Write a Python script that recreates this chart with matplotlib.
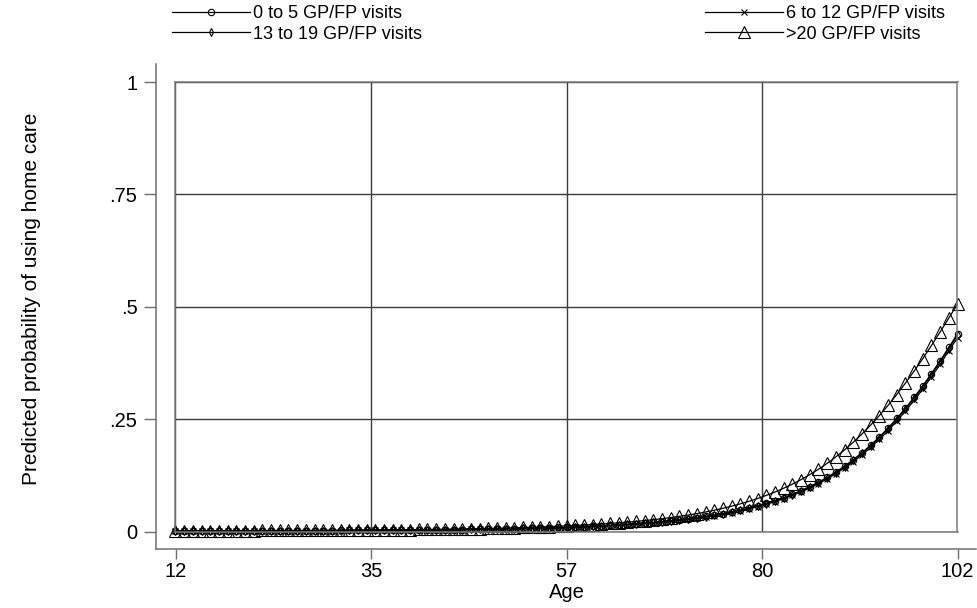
import numpy as np
import matplotlib
matplotlib.use('Agg')
import matplotlib.pyplot as plt

plt.rcParams['font.family'] = ['Liberation Sans', 'DejaVu Sans']

### Data (one point per year of age) ###

ages = list(range(12, 103))

visits_0_5 = [
    0.00176, 0.00178, 0.00180, 0.00183, 0.00186, 0.00188, 0.00191, 0.00195, 0.00199, 0.00203,
    0.00207, 0.00212, 0.00217, 0.00223, 0.00229, 0.00235, 0.00243, 0.00250, 0.00258, 0.00267,
    0.00276, 0.00287, 0.00297, 0.00309, 0.00322, 0.00335, 0.00350, 0.00366, 0.00382, 0.00401,
    0.00420, 0.00442, 0.00464, 0.00489, 0.00515, 0.00543, 0.00574, 0.00607, 0.00643, 0.00682,
    0.00725, 0.00771, 0.00820, 0.00875, 0.00934, 0.00997, 0.01067, 0.01143, 0.01227, 0.01318,
    0.01418, 0.01526, 0.01645, 0.01774, 0.01915, 0.02072, 0.02245, 0.02431, 0.02643, 0.02866,
    0.03118, 0.03396, 0.03700, 0.04044, 0.04410, 0.04811, 0.05266, 0.05767, 0.06312, 0.06920,
    0.07586, 0.08326, 0.09135, 0.1003, 0.1102, 0.1209, 0.1329, 0.1458, 0.1600, 0.1755,
    0.1925, 0.2107, 0.2304, 0.2518, 0.2745, 0.2986, 0.3243, 0.3516, 0.3801, 0.4097,
    0.4403,
]

visits_6_12 = [
    0.00170, 0.00172, 0.00174, 0.00177, 0.00180, 0.00182, 0.00184, 0.00188, 0.00192, 0.00196,
    0.00200, 0.00205, 0.00210, 0.00215, 0.00221, 0.00227, 0.00235, 0.00241, 0.00249, 0.00258,
    0.00267, 0.00277, 0.00287, 0.00298, 0.00311, 0.00324, 0.00338, 0.00353, 0.00369, 0.00387,
    0.00406, 0.00427, 0.00448, 0.00472, 0.00497, 0.00524, 0.00554, 0.00586, 0.00621, 0.00659,
    0.00700, 0.00745, 0.00792, 0.00845, 0.00902, 0.00963, 0.01031, 0.01104, 0.01185, 0.01273,
    0.01370, 0.01474, 0.01589, 0.01714, 0.01850, 0.02002, 0.02169, 0.02349, 0.02554, 0.02770,
    0.03013, 0.03282, 0.03576, 0.03909, 0.04263, 0.04652, 0.05092, 0.05578, 0.06106, 0.06696,
    0.07342, 0.08061, 0.08848, 0.0972, 0.1068, 0.1173, 0.1290, 0.1416, 0.1554, 0.1706,
    0.1873, 0.2051, 0.2245, 0.2453, 0.2680, 0.2918, 0.3172, 0.3443, 0.3719, 0.4020,
    0.4317,
]

visits_13_19 = [
    0.00174, 0.00176, 0.00178, 0.00181, 0.00184, 0.00186, 0.00189, 0.00193, 0.00197, 0.00201,
    0.00205, 0.00209, 0.00214, 0.00220, 0.00226, 0.00232, 0.00240, 0.00247, 0.00255, 0.00264,
    0.00273, 0.00284, 0.00293, 0.00305, 0.00318, 0.00331, 0.00346, 0.00362, 0.00377, 0.00396,
    0.00415, 0.00437, 0.00458, 0.00483, 0.00509, 0.00537, 0.00567, 0.00600, 0.00635, 0.00674,
    0.00716, 0.00762, 0.00810, 0.00865, 0.00923, 0.00985, 0.01054, 0.01129, 0.01212, 0.01302,
    0.01401, 0.01508, 0.01625, 0.01753, 0.01892, 0.02047, 0.02218, 0.02402, 0.02612, 0.02832,
    0.03081, 0.03356, 0.03657, 0.03997, 0.04359, 0.04756, 0.05206, 0.05702, 0.06241, 0.06843,
    0.07503, 0.08236, 0.09038, 0.0993, 0.1091, 0.1197, 0.1316, 0.1444, 0.1585, 0.1739,
    0.1908, 0.2088, 0.2284, 0.2497, 0.2724, 0.2964, 0.3220, 0.3493, 0.3777, 0.4072,
    0.4373,
]

visits_20_plus = [
    0.00229, 0.00232, 0.00235, 0.00238, 0.00242, 0.00245, 0.00249, 0.00254, 0.00259, 0.00264,
    0.00270, 0.00276, 0.00283, 0.00290, 0.00298, 0.00306, 0.00316, 0.00326, 0.00336, 0.00348,
    0.00359, 0.00374, 0.00387, 0.00402, 0.00419, 0.00436, 0.00456, 0.00476, 0.00497, 0.00522,
    0.00547, 0.00575, 0.00604, 0.00636, 0.00670, 0.00707, 0.00747, 0.00790, 0.00836, 0.00887,
    0.00943, 0.01003, 0.01066, 0.01137, 0.01214, 0.01295, 0.01386, 0.01484, 0.01592, 0.01709,
    0.01838, 0.01977, 0.02130, 0.02296, 0.02477, 0.02678, 0.02900, 0.03138, 0.03420, 0.03710,
    0.04030, 0.04380, 0.04770, 0.05200, 0.05670, 0.06190, 0.06750, 0.07380, 0.08080, 0.08830,
    0.09670, 0.1058, 0.1159, 0.1270, 0.1389, 0.1520, 0.1664, 0.1820, 0.1989, 0.2172,
    0.2370, 0.2581, 0.2807, 0.3049, 0.3303, 0.3569, 0.3848, 0.4141, 0.4442, 0.4750,
    0.5062,
]

x_ticks = [12, 34.5, 57, 79.5, 102]
x_tick_labels = ['12', '35', '57', '80', '102']
y_ticks = [0, 0.25, 0.5, 0.75, 1]
y_tick_labels = ['0', '.25', '.5', '.75', '1']

### Layout (pixels on a 978x608 canvas) ###

W, H = 978, 608
box_l, box_r, box_t, box_b = 175.5, 957.5, 82, 531.7
pad_l, pad_r, pad_t, pad_b = 20, 18, 18, 17.5

fig = plt.figure(figsize=(W / 100, H / 100), dpi=100)

# Outer axes only carries the offset axis lines, ticks and tick labels
outer = fig.add_axes([
    (box_l - pad_l) / W,
    (H - box_b - pad_b) / H,
    (box_r - box_l + pad_l + pad_r) / W,
    (box_b - box_t + pad_t + pad_b) / H,
])
outer.set_facecolor('none')
x_per_px = (102 - 12) / (box_r - box_l)
y_per_px = 1.0 / (box_b - box_t)
outer.set_xlim(12 - pad_l * x_per_px, 102 + pad_r * x_per_px)
outer.set_ylim(0 - pad_b * y_per_px, 1 + pad_t * y_per_px)
for side in ('top', 'right'):
    outer.spines[side].set_visible(False)
for side in ('left', 'bottom'):
    outer.spines[side].set_color('#6e6e6e')
    outer.spines[side].set_linewidth(1.1)
outer.set_xticks(x_ticks)
outer.set_xticklabels(x_tick_labels)
outer.set_yticks(y_ticks)
outer.set_yticklabels(y_tick_labels)
outer.tick_params(axis='y', length=9, width=1, color='#6e6e6e', pad=4, labelsize=14.5)
outer.tick_params(axis='x', length=7.5, width=1, color='#6e6e6e', pad=2, labelsize=14.5)

# Inner plot region with the box and grid
ax = fig.add_axes([
    box_l / W,
    (H - box_b) / H,
    (box_r - box_l) / W,
    (box_b - box_t) / H,
])
ax.set_facecolor('none')
ax.set_xlim(12, 102)
ax.set_ylim(0, 1)
ax.set_xticks(x_ticks)
ax.set_yticks(y_ticks)
ax.tick_params(length=0, labelleft=False, labelbottom=False)
ax.grid(True, color='#3c3c3c', linewidth=1)
ax.set_axisbelow(True)
for side in ax.spines:
    ax.spines[side].set_color('#7a7a7a')
    ax.spines[side].set_linewidth(1.1)

common = dict(color='black', linewidth=0.9, markeredgewidth=0.8, clip_on=False)

line_0_5, = ax.plot(ages, visits_0_5, marker='o', markersize=4.6,
                    markerfacecolor='none', label='0 to 5 GP/FP visits', **common)
line_6_12, = ax.plot(ages, visits_6_12, marker='x', markersize=4.5,
                     label='6 to 12 GP/FP visits', **common)
line_13_19, = ax.plot(ages, visits_13_19, marker='d', markersize=4.2,
                      markerfacecolor='none', label='13 to 19 GP/FP visits', **common)
line_20, = ax.plot(ages, visits_20_plus, marker='^', markersize=8,
                   markerfacecolor='none', label='>20 GP/FP visits', **common)

# Legend: two columns above the plot
legend_style = dict(loc='upper left', frameon=False, fontsize=13, handlelength=4.3,
                    handletextpad=0.2, labelspacing=0.2, borderpad=0, borderaxespad=0)
fig.legend(handles=[line_0_5, line_13_19], bbox_to_anchor=(172 / W, 1 - 5 / H), **legend_style)
fig.legend(handles=[line_6_12, line_20], bbox_to_anchor=(705 / W, 1 - 5 / H), **legend_style)

fig.text(32 / W, 1 - 299 / H, 'Predicted probability of using home care',
         rotation=90, ha='center', va='center', fontsize=15)
fig.text(567 / W, 1 - 593 / H, 'Age', ha='center', va='center', fontsize=14.5)

fig.savefig('out.png', dpi=100)
